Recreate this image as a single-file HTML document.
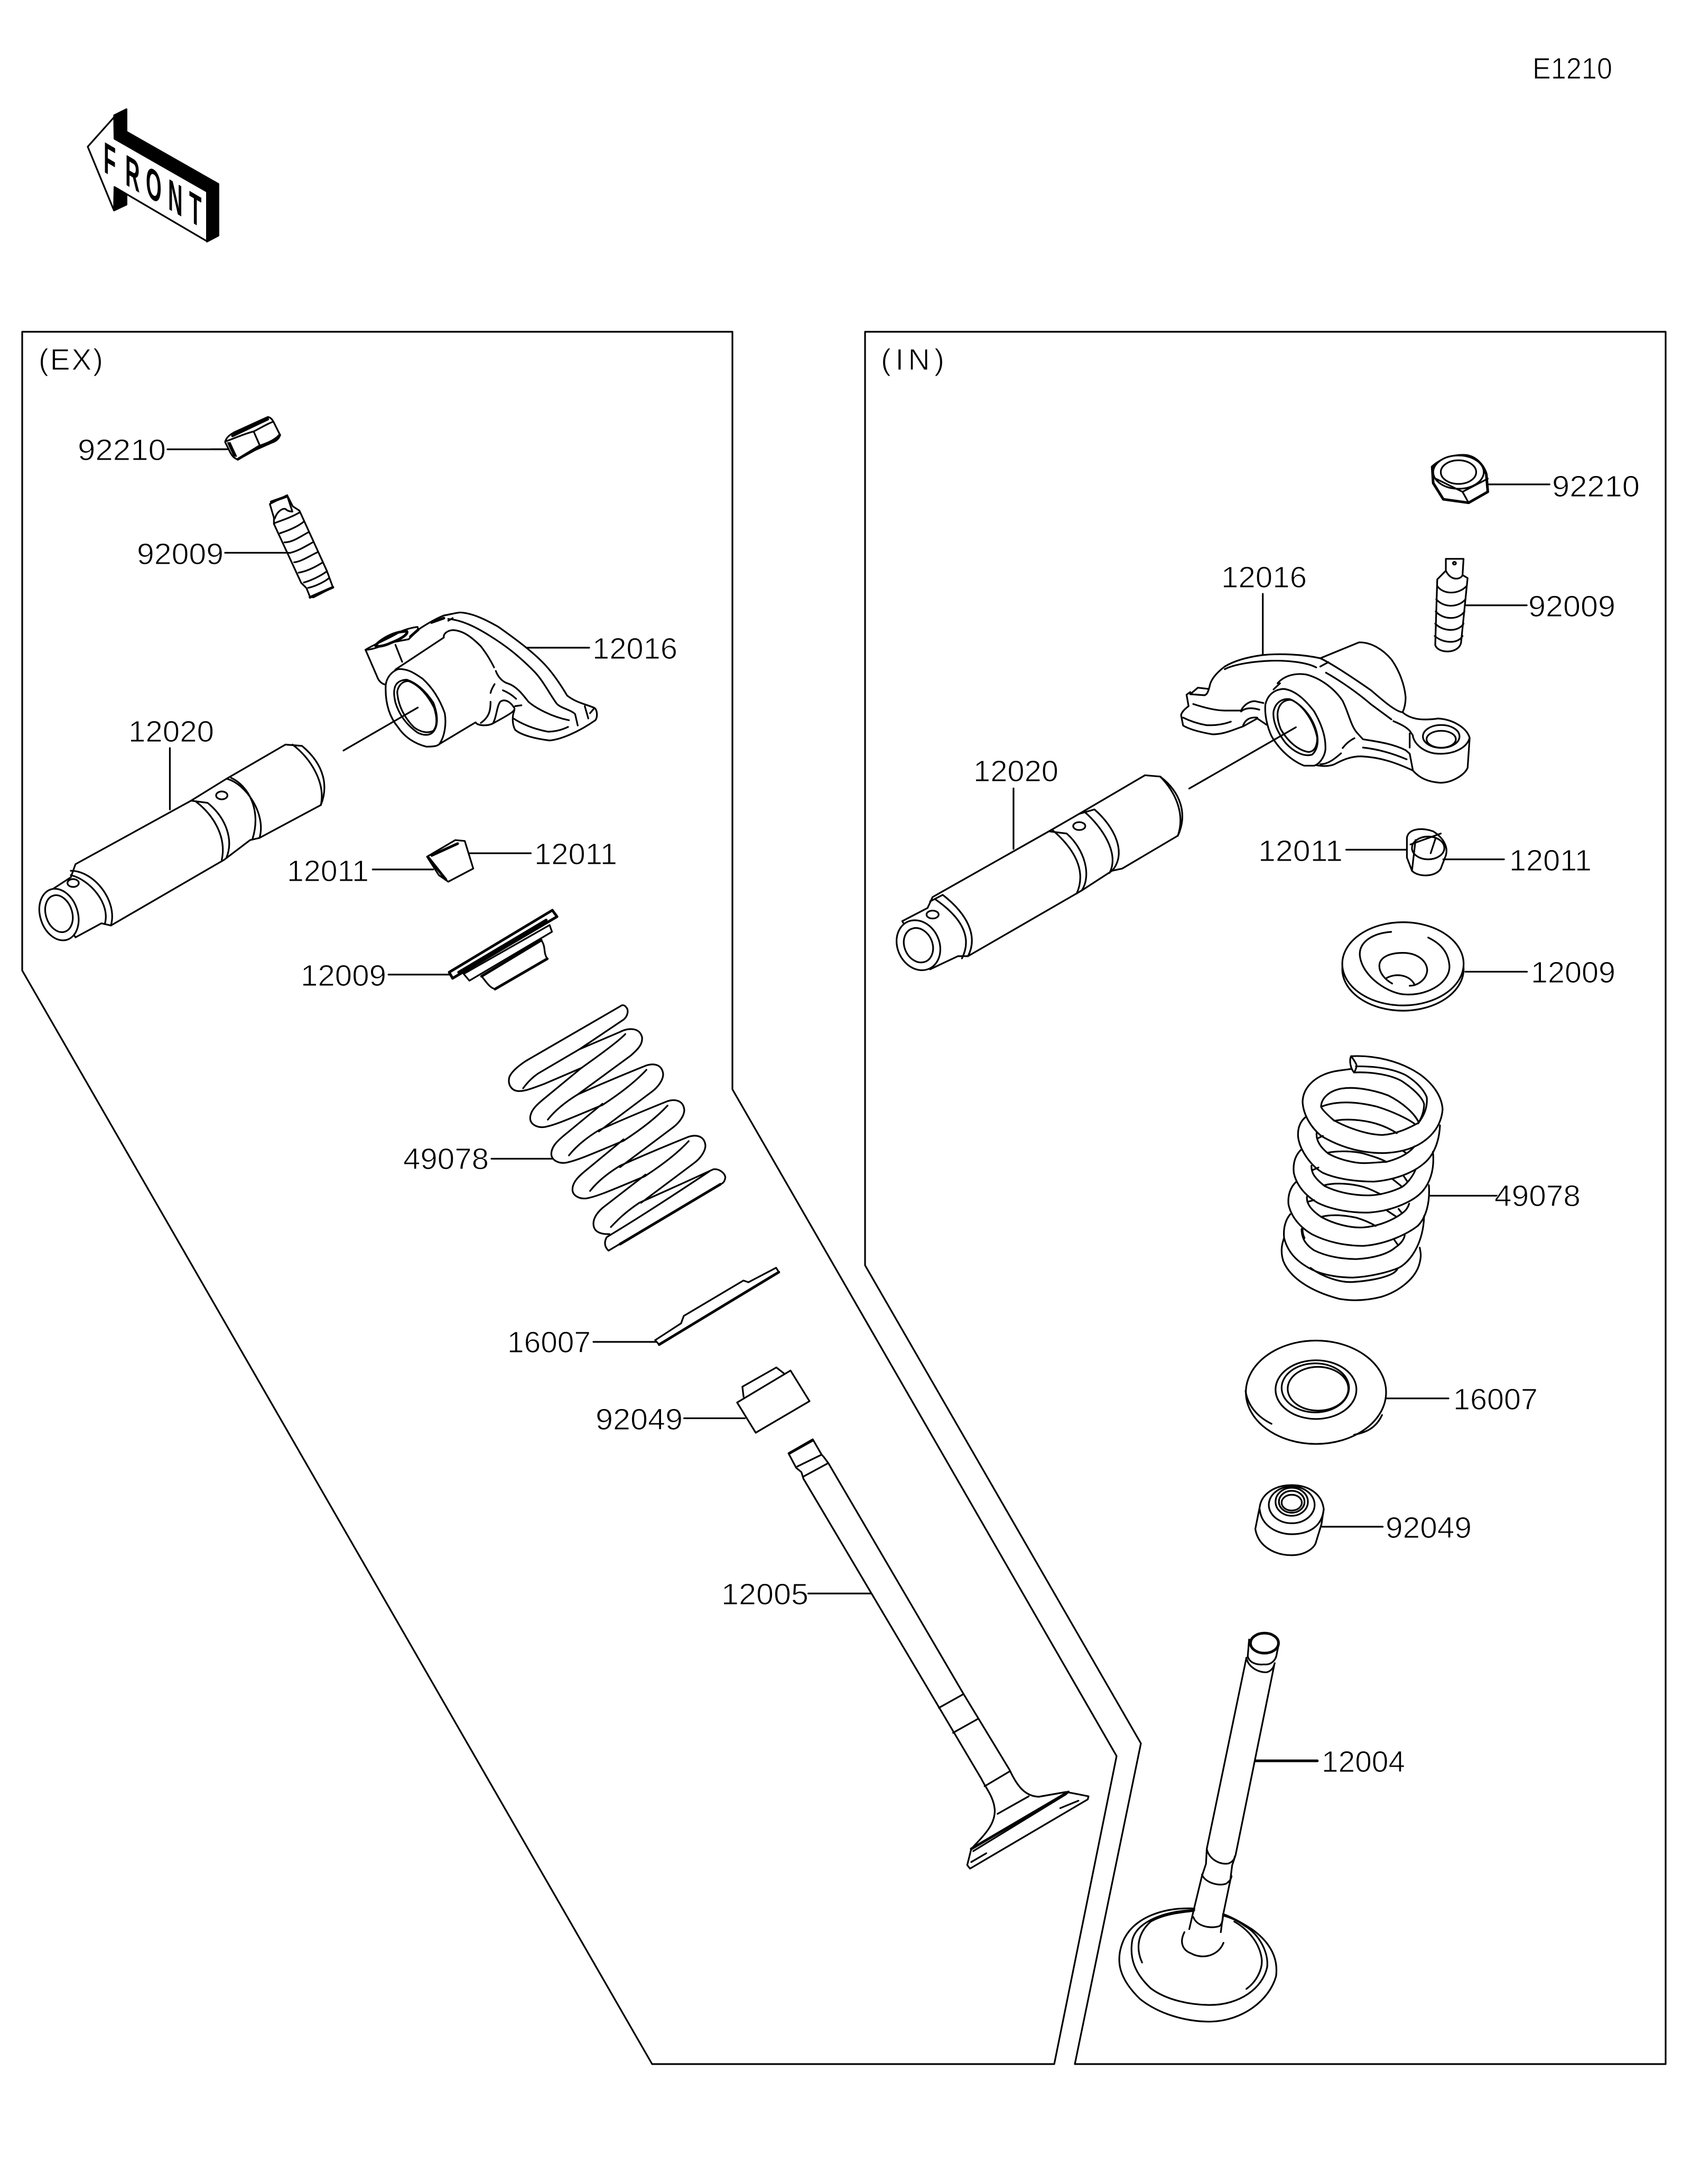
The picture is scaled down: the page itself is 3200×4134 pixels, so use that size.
<!DOCTYPE html>
<html><head><meta charset="utf-8"><style>
html,body{margin:0;padding:0;background:#fff}
svg{display:block}
svg path,svg line,svg ellipse,svg polygon{vector-effect:non-scaling-stroke;stroke:#000;stroke-width:3.2;fill:none;stroke-linejoin:round;stroke-linecap:round}
svg .w{fill:#fff}
svg .t{stroke-width:5}
svg .b{fill:#000}
text.l{font-family:"Liberation Sans",sans-serif;font-size:57px;fill:#000;stroke:#fff;stroke-width:1.1px}
text.f{font-family:"Liberation Sans",sans-serif;font-size:83px;font-weight:bold;fill:#000}
</style></head><body>
<svg xmlns="http://www.w3.org/2000/svg" width="3200" height="4134" viewBox="0 0 3200 4134">
<rect width="3200" height="4134" fill="#fff"/>

<!-- panels -->
<path d="M42,628 H1386 V2062 L2113,3324 L1995,3907 H1234 L42,1837 Z"/>
<path d="M1637,628 H3152 V3907 H2034 L2159,3300 L1637,2395 Z"/>

<!-- FRONT -->
<g transform="translate(100,150) scale(.3333)">
<polygon class="b" points="348,205 418,170 418,298 940,595 940,888 875,922 875,638 350,338"/>
<polygon class="b" points="348,745 418,712 418,655 350,612"/>
<polygon class="w" points="348,215 198,383 347,745 350,612 875,920 875,638 350,338"/>
</g>
<text class="f" transform="matrix(.46,.27,0,1,196,325)">F</text>
<text class="f" transform="matrix(.46,.27,0,1,237,349)">R</text>
<text class="f" transform="matrix(.46,.27,0,1,276,370)">O</text>
<text class="f" transform="matrix(.46,.27,0,1,318,395)">N</text>
<text class="f" transform="matrix(.46,.27,0,1,358,418)">T</text>

<!-- EX nut + screw -->
<g transform="translate(400,780) scale(.3333)">
<path d="M78,170 C85,140 110,125 140,110 L320,28 C340,30 350,50 355,60 L390,130 C385,150 370,165 340,175 L250,215 L150,270 C125,260 115,245 105,225 Z"/>
<path d="M85,165 C130,150 180,125 240,110 C280,90 320,65 350,55 M240,110 L275,190 M105,175 L140,250 M95,175 L130,250"/>
<path class="t" d="M120,135 L320,40 M130,118 L300,45 M150,268 L270,195 C300,185 360,165 388,130"/>
<path d="M0,211 H95"/>
<path d="M332,522 L430,472 L462,535 L500,560 L655,900 L690,995 L580,1052 L560,1050 L540,1000 L510,970 L355,635 L355,600 Z"/>
<path class="t" d="M340,510 L430,478 M560,1052 L690,995"/>
<path d="M432,480 L460,565 M360,605 C370,570 400,545 420,550 C430,560 445,565 458,565 M360,630 C400,615 460,595 500,570 M390,688 C430,675 480,655 515,630 L525,622 M415,740 C460,740 500,710 550,683 M445,800 C490,790 530,765 575,740 M470,853 C510,850 560,815 605,795 M495,912 C540,905 590,880 630,855 M525,968 C570,955 620,930 655,905 M550,998 C590,990 640,965 665,945"/>
<path d="M78,799 H440"/>
</g>

<!-- EX rocker -->
<g transform="translate(660,1130) scale(.3333)">
<path d="M95,300 L160,450 C170,480 190,495 210,498 M210,498 C215,460 240,425 280,410 C330,405 370,430 420,465 C480,520 520,590 545,660 C555,720 545,790 515,835 C505,845 490,850 440,850 C380,835 320,800 280,740 C230,680 205,600 210,498 Z"/>
<path d="M260,520 C265,490 290,470 330,470 C390,490 440,540 480,600 C500,650 510,710 490,750 C470,790 430,790 390,770 C340,735 290,680 265,600 C258,570 255,540 260,520 Z"/>
<path d="M275,540 C280,500 310,475 340,478 C400,500 450,560 485,630 C500,680 505,730 480,760 C450,775 410,770 370,740 C320,690 280,620 275,540 Z"/>
<path d="M-30,872 L392,628"/>
<path d="M265,412 L540,230 C535,210 560,190 590,188 C650,190 700,230 750,280 C780,320 800,350 825,400 M835,420 C845,450 870,480 900,490 C950,505 985,550 1020,595 C1060,630 1150,680 1250,700 M828,495 C815,515 808,530 805,545 M805,595 C805,640 800,680 750,715 M875,530 C900,540 925,555 950,578 M820,715 C840,680 840,620 860,595 C880,580 910,585 940,630 C945,645 935,655 815,720 M945,620 L980,615 M515,835 L720,712 C730,730 780,735 815,720"/>
<path d="M940,645 C925,680 930,730 945,755 C980,785 1060,805 1140,815 C1200,810 1300,770 1400,700 C1415,680 1410,640 1395,630 C1350,610 1290,600 1240,560 C1210,510 1160,430 1100,370 C1040,310 970,255 850,170 C780,130 700,90 630,88 C610,90 570,100 540,105 C490,125 440,155 395,185 L340,240 M565,135 L590,120 M565,125 C640,130 720,170 800,220 C880,270 950,320 1050,420 C1100,470 1140,550 1180,605 C1200,630 1260,640 1285,665 L1300,730 M935,690 C980,720 1050,750 1130,765 C1170,765 1210,755 1245,738 M1340,620 L1360,690 M1370,660 L1395,630"/>
<path d="M95,300 C140,270 200,250 270,210 C300,190 350,175 390,170 L395,185 L340,240 L260,255 C200,270 140,300 95,300 M265,272 L303,368"/>
<path class="t" d="M150,275 C190,235 260,195 330,195 C340,215 280,245 240,260 C200,280 160,285 150,275 M395,185 L350,225 M470,145 L540,120"/>
<path d="M1010,288 H1365"/>
</g>

<!-- EX shaft, key, etc: zoom 2 coords -->
<g transform="translate(0,620) scale(.8929,.8292)">
<path d="M355,278 H478"/>
<path class="w" d="M160,1225 L405,1080 L480,1030 L605,952 L640,955 C690,1000 695,1050 680,1090 L550,1165 L530,1170 L475,1215 L235,1365 L215,1360 L160,1392 L100,1290 L150,1255 Z"/>
<path d="M405,1080 L440,1085 C480,1120 495,1170 480,1210 M415,1082 C455,1115 480,1165 470,1215 M480,1030 C520,1040 565,1110 550,1165 M490,1028 C525,1045 555,1100 535,1168 M150,1240 C200,1240 250,1310 235,1365 M150,1250 C190,1260 235,1315 222,1362 M620,952 C660,985 690,1040 680,1090"/>
<ellipse cx="470" cy="1068" rx="12" ry="9"/><ellipse cx="155" cy="1268" rx="12" ry="9"/>
<ellipse class="w" cx="125" cy="1340" rx="40" ry="60" transform="rotate(-15 125 1340)"/>
<ellipse cx="125" cy="1338" rx="28" ry="43" transform="rotate(-15 125 1338)"/>
<path d="M360,960 V1100"/>
<polygon class="w" points="905,1208 965,1170 985,1172 1003,1235 950,1265 930,1250"/>
<path class="t" d="M908,1210 L945,1260 M915,1205 L970,1178"/>
<path d="M995,1200 H1125 M790,1237 H918"/>
</g>

<!-- EX retainer, plate: zoom 3 coords -->
<g transform="translate(600,1700) scale(.6378)">
<path class="t w" d="M392,220 L698,36 L712,55 L402,238 Z"/>
<path class="w" d="M435,225 L690,80 L697,100 L452,245 Z"/>
<path class="w" d="M488,232 L665,125 C680,145 670,160 683,180 L528,270 C510,265 500,245 488,232 Z"/>
<path class="t" d="M488,232 L665,125 M528,270 L683,180 M420,220 L680,65"/>
<path d="M212,227 H395"/>
<path class="w" d="M1003,1312 L1080,1262 L1088,1240 L1265,1135 L1280,1140 L1362,1097 L1370,1110 L1015,1325 Z"/>
<path class="t" d="M1015,1325 L1370,1110"/>
<path d="M820,1317 H1005"/>
</g>

<!-- EX spring -->
<g transform="translate(940,1880) scale(.3333)">
<path d="M470,318 L720,150 C745,130 750,95 735,80 C725,65 712,65 700,75 L165,385 C120,415 85,445 72,475 C60,520 85,550 115,555 C150,560 190,545 270,515 L480,425 C600,340 700,265 730,232"/>
<path d="M150,540 C175,505 210,470 245,450 L470,318 L700,220 C740,198 810,190 825,250 C830,290 800,320 760,355 L460,575"/>
<path d="M290,718 C320,680 370,630 460,575 C560,530 700,470 850,410 C900,395 940,410 945,460 C945,490 920,530 880,560 L580,785"/>
<path transform="translate(120,203)" d="M290,718 C320,680 370,630 460,575 C560,530 700,470 850,410 C900,395 940,410 945,460 C945,490 920,530 880,560 L580,785"/>
<path transform="translate(240,405)" d="M290,718 C320,680 370,630 460,575 C560,530 700,470 850,410 C900,395 940,410 945,460 C945,490 920,530 880,560 L580,785"/>
<path d="M480,425 L280,590 C230,630 190,665 190,710 C190,745 230,765 270,760 C330,750 420,710 600,635 C700,570 790,500 850,435"/>
<path transform="translate(120,203)" d="M480,425 L280,590 C230,630 190,665 190,710 C190,745 230,765 270,760 C330,750 420,710 600,635 C700,570 790,500 850,435"/>
<path transform="translate(240,405)" d="M480,425 L280,590 C230,630 190,665 190,710 C190,745 230,765 270,760 C330,750 420,710 600,635 C700,570 790,500 850,435"/>
<path d="M845,1030 L600,1220 C560,1255 545,1290 550,1320 C555,1355 590,1370 640,1368"/>
<path d="M648,1328 C680,1295 720,1250 810,1190 C900,1150 1100,1060 1230,1000 C1260,995 1295,1020 1298,1045 C1295,1070 1285,1080 1270,1085 L635,1462 C610,1440 610,1410 625,1385 C800,1280 1000,1150 1210,1010"/>
<path class="t" d="M1270,1085 L700,1425"/>
<path d="M-30,940 H315"/>
</g>

<!-- EX valve + seal: zoom 4 coords -->
<g transform="translate(1000,2600) scale(.7653,.8292)">
<path d="M532,53 L529,30 L613,-14 L631,-1"/>
<polygon class="w" points="516,66 648,-7 695,63 562,135"/>
<path d="M385,102 H535"/>
<path d="M692,502 H848"/>
<path class="w" d="M643,182 L703,150 L725,185 L730,190 L742,205 L1075,730 L1190,905 C1210,945 1230,965 1262,966 L1330,955 L1385,965 L1383,972 L1092,1130 L1085,1122 L1095,1085 C1125,1055 1155,1030 1153,995 C1150,965 1130,945 1120,925 L680,240 L675,225 L662,215 Z"/>
<path d="M665,212 L725,185 M680,235 L740,205 M1015,763 L1075,732 M1050,820 L1112,788 M1128,942 L1190,908 M1160,1005 L1237,965 M1100,1090 L1330,960 M1315,992 L1360,975 M1095,1115 L1132,1095"/>
<path class="t" d="M1095,1085 L1335,955 M645,182 L703,152"/>
</g>

<!-- IN rocker -->
<g transform="translate(2210,1190) scale(.3846,.3333)">
<path d="M465,150 C550,140 660,145 750,168 L940,78 C1000,75 1060,120 1100,175 C1140,240 1165,320 1170,390 C1170,420 1165,450 1155,475 C1190,510 1240,525 1330,510 C1400,515 1470,560 1485,620 L1475,790 C1460,830 1400,875 1340,875 C1280,870 1240,850 1205,805 C1130,765 1050,730 950,725 C900,725 860,745 820,770 C790,785 750,780 730,775"/>
<path d="M465,150 C400,160 330,180 280,215 C240,250 210,290 205,330 C200,350 195,375 180,378 L110,372 L148,335 L200,342 M110,360 L92,375 L102,440 C85,455 70,470 65,490 L75,550 C110,575 170,590 220,600 C280,600 330,570 370,555 L440,510 L485,545 M75,505 C110,525 150,540 190,548 C230,550 270,545 310,528 M125,428 C170,445 230,465 280,465 L360,465 C375,430 405,410 430,412 L470,422 M360,470 C385,445 420,450 450,460 M370,550 C380,520 400,500 440,505"/>
<path d="M280,230 C330,200 430,185 510,182 C590,180 680,190 730,220 M750,215 L790,190 M750,168 C800,195 900,270 1000,350 C1060,410 1120,470 1155,475 M778,250 C840,290 930,360 1000,430 L1100,515 M1110,525 C1140,540 1170,555 1190,580 L1205,605 C1210,650 1250,695 1310,708 C1400,720 1470,680 1485,620 M1190,595 L1190,675 M540,310 C570,270 620,250 680,260 C750,280 820,340 860,410 C890,480 900,550 930,590 L960,628 C1020,640 1100,650 1170,690 L1190,710 L1205,800 M520,345 L552,310 M960,675 C1040,685 1110,710 1175,742 M860,678 C875,655 895,635 918,622 M750,770 C790,770 825,735 852,708"/>
<path d="M480,430 C490,380 520,345 570,342 C630,350 680,410 720,470 C750,530 780,610 775,690 C770,730 745,770 720,778 L670,778 C610,750 550,690 510,610 C490,560 475,490 480,430 Z"/>
<path d="M520,470 C530,420 560,395 600,400 C660,430 710,500 730,580 C745,640 735,690 710,715 C670,730 620,700 580,650 C540,590 515,530 520,470 Z"/>
<path d="M540,480 C545,420 580,400 610,405 C670,440 720,530 735,620 C735,670 720,700 690,700 C640,690 590,640 555,570 C545,540 538,510 540,480 Z"/>
<ellipse cx="1345" cy="612" rx="90" ry="65"/>
<ellipse cx="1345" cy="628" rx="72" ry="48"/>
<path d="M105,908 L630,560"/>
</g>

<!-- IN top: zoom 5 coords -->
<g transform="translate(1650,620) scale(.9569,.8292)">
<path class="w t" d="M1108,318 C1125,300 1150,290 1175,292 C1195,295 1210,315 1215,335 L1218,375 L1180,400 L1130,392 L1110,355 Z"/>
<ellipse class="w" cx="1160" cy="330" rx="50" ry="38"/>
<ellipse cx="1160" cy="330" rx="35" ry="27"/>
<path d="M1115,345 L1168,375 L1218,345 M1168,375 L1180,400 M1110,355 L1130,392"/>
<path d="M1220,358 H1340"/>
<path class="w" d="M1135,528 L1170,528 L1168,565 L1178,572 L1165,720 C1160,745 1120,745 1114,725 L1118,575 L1135,555 Z"/>
<path d="M1135,555 C1145,580 1165,575 1168,565 M1118,590 C1130,610 1160,610 1176,590 M1116,620 C1130,640 1160,640 1174,620 M1115,648 C1130,668 1160,668 1172,648 M1114,676 C1130,695 1160,695 1170,676 M1113,704 C1130,722 1160,722 1168,704"/>
<ellipse cx="1152" cy="538" rx="3" ry="3"/>
<path d="M1175,634 H1295 M773,608 V745"/>

<path class="w" d="M120,1300 L350,1150 L410,1110 L540,1022 L570,1025 C610,1060 625,1110 605,1160 L495,1235 L475,1240 L415,1285 L190,1435 L170,1435 L115,1465 L60,1355 L110,1325 Z"/>
<path d="M350,1150 L385,1155 C420,1190 435,1250 415,1285 M358,1148 C400,1190 425,1240 405,1292 M410,1110 L440,1100 C480,1140 505,1200 475,1240 M420,1105 C455,1140 490,1200 470,1245 M115,1310 L140,1295 C190,1340 210,1390 190,1435 M125,1305 C175,1345 200,1390 178,1440 M570,1025 C600,1060 620,1110 605,1160"/>
<ellipse cx="410" cy="1138" rx="12" ry="9"/><ellipse cx="120" cy="1340" rx="12" ry="9"/>
<ellipse class="w" cx="92" cy="1410" rx="42" ry="58" transform="rotate(-15 92 1410)"/>
<ellipse cx="92" cy="1410" rx="28" ry="40" transform="rotate(-15 92 1410)"/>
<path d="M280,1052 V1190"/>

<path class="w" d="M1058,1165 C1060,1145 1085,1140 1110,1150 C1130,1165 1140,1185 1135,1205 L1125,1235 C1115,1255 1080,1255 1068,1240 L1058,1210 Z"/>
<ellipse cx="1100" cy="1188" rx="32" ry="26"/>
<path d="M1065,1180 L1125,1155 M1068,1240 L1075,1170 M1115,1165 L1105,1200"/>
<path d="M938,1192 H1058 M1130,1214 H1250"/>
</g>

<!-- IN spring -->
<g transform="translate(2400,1980) scale(.3333)">
<path d="M470,58 C600,50 750,85 860,160 C930,210 985,280 990,360 C985,420 960,470 920,510 C860,570 770,605 650,608 C520,608 400,570 300,510 C240,460 200,390 195,320 C195,240 260,170 370,145 C400,138 440,135 470,130"/>
<path d="M470,58 C460,80 465,125 487,150 C500,130 505,110 498,100 C490,85 480,70 470,58 M498,115 C600,115 700,125 780,165 C830,195 880,240 900,290 C905,340 890,390 850,440 M487,150 C590,145 700,165 760,200 C820,240 875,290 885,330 C885,370 870,410 850,440"/>
<path d="M300,345 C300,300 340,260 400,245 C480,225 600,250 680,280 C760,320 830,380 855,435 C800,465 730,500 650,505 C560,505 440,460 370,420 C330,385 305,360 300,345 M300,345 C400,305 520,320 620,345 C700,370 790,410 835,445 M375,425 C440,410 540,420 610,440 C660,455 700,475 730,495"/>
<path d="M210,405 C180,430 165,470 170,520 C180,590 240,680 310,720 C400,760 520,770 600,770 C720,760 820,720 880,670 C930,630 970,560 975,450 M275,490 C270,530 290,570 340,610 C400,645 490,665 540,665 C590,665 620,660 670,658 C720,645 790,620 830,570 M340,605 C400,595 480,595 540,610 C590,625 640,640 670,658 M280,525 L310,510 M765,595 L785,610"/>
<path d="M185,590 C150,625 140,670 145,720 C160,790 210,850 280,890 C360,930 480,950 580,945 C710,935 830,880 880,820 C920,770 945,700 935,600 M245,680 C245,710 250,740 320,795 C400,835 500,850 580,848 C650,845 720,820 760,800 C790,780 820,740 835,705 M320,790 C380,775 470,780 540,800 C590,815 620,835 640,842 M250,705 L285,690 M705,755 L755,795 M770,740 L790,770"/>
<path d="M160,770 C125,800 110,850 115,900 C130,970 180,1030 250,1070 C330,1110 430,1135 540,1135 C680,1125 800,1060 850,1020 C890,980 920,900 912,790 M220,855 C215,890 240,930 300,970 C370,1010 470,1035 540,1030 C610,1025 680,1000 730,970 C770,945 790,930 800,895 M300,970 C360,955 430,960 500,975 C550,990 590,1010 610,1022 M222,885 L260,875 M675,935 L725,968 M740,925 L760,950"/>
<path d="M125,955 C95,990 85,1040 90,1090 C110,1170 160,1220 230,1260 C300,1300 400,1315 480,1315 C580,1310 680,1285 740,1260 C800,1230 880,1130 885,965 M190,1040 C190,1080 200,1120 260,1160 C330,1195 420,1210 500,1210 C600,1205 680,1180 720,1145 C750,1125 770,1100 775,1075 M715,1100 L735,1128"/>
<path class="t" d="M192,1040 C192,1060 195,1075 203,1090"/>
<path d="M90,1090 C75,1130 70,1170 85,1220 C120,1310 230,1390 400,1435 C480,1450 560,1445 640,1425 C740,1395 840,1320 860,1230 C870,1190 865,1170 860,1145 M240,1260 C300,1305 400,1345 480,1340 C560,1335 650,1320 700,1295 C720,1285 730,1275 735,1262"/>
<path d="M920,850 H1300"/>
</g>

<!-- IN retainer, plate, seal: zoom 6 coords -->
<g transform="translate(2100,1700) scale(.6378,.8292)">
<ellipse class="w" cx="870" cy="162" rx="180" ry="95"/>
<ellipse class="w" cx="870" cy="150" rx="180" ry="95"/>
<path d="M835,77 C780,80 740,100 742,130 C748,180 830,220 880,220 C950,222 1010,190 1008,155 C1005,125 985,105 945,90"/>
<path d="M800,155 C800,135 830,125 870,125 C915,125 942,145 942,165 C940,185 915,200 890,200 M800,155 C800,170 815,185 838,195 M820,183 C850,170 890,175 905,198"/>
<path d="M1055,168 H1238"/>

<ellipse class="w" cx="612" cy="1128" rx="208" ry="118"/>
<path d="M403,1125 C410,1160 440,1185 480,1200 M725,1225 C760,1220 790,1210 808,1180"/>
<ellipse cx="612" cy="1122" rx="120" ry="67"/>
<ellipse cx="610" cy="1118" rx="100" ry="56"/>
<ellipse cx="618" cy="1120" rx="90" ry="50"/>
<path d="M822,1142 H1005"/>

<path class="w" d="M445,1390 L432,1440 C440,1480 490,1500 540,1500 C585,1500 610,1480 612,1470 L628,1430 L635,1395 C630,1360 590,1340 540,1340 C490,1340 450,1360 445,1390 Z"/>
<path d="M445,1395 C450,1435 500,1452 540,1452 C590,1452 630,1435 635,1395"/>
<ellipse cx="540" cy="1385" rx="68" ry="42"/>
<ellipse cx="540" cy="1378" rx="48" ry="32"/>
<ellipse cx="540" cy="1378" rx="38" ry="25"/>
<ellipse cx="540" cy="1380" rx="30" ry="18"/>
<path d="M630,1435 H810"/>
</g>

<!-- 12004: zoom 7 coords -->
<g transform="translate(2050,3000) scale(.5102,.5741)">
<path class="w" d="M412,1067 C300,1062 190,1095 150,1170 C115,1240 135,1300 210,1365 C280,1415 380,1440 470,1440 C590,1438 690,1370 715,1290 C725,1220 680,1170 625,1135 C590,1115 550,1095 518,1085"/>
<path d="M412,1072 C300,1075 200,1110 182,1170 C170,1230 190,1280 250,1330 C310,1370 400,1385 470,1385 C580,1385 665,1330 682,1260 C688,1210 650,1150 600,1125 C570,1105 540,1095 518,1090"/>
<path d="M218,1245 C195,1200 200,1150 250,1110 C300,1085 360,1080 410,1075 M605,1332 C640,1310 665,1270 662,1235 C655,1180 610,1135 560,1110"/>
<path d="M375,1145 C355,1180 370,1205 400,1215 C440,1235 500,1225 520,1180"/>
<path d="M605,240 L458,870 L455,920 L440,960 L410,1070 L393,1135 M708,265 L565,890 L552,925 L545,975 L518,1090 L510,1145"/>
<path d="M615,180 L610,235 C615,255 640,265 670,262 C695,265 715,250 718,225 L725,195 M605,240 C610,270 650,290 680,288 C695,285 705,275 710,258 M458,870 C465,905 510,925 540,918 C555,912 560,905 562,895 M440,955 C450,980 500,995 530,985 C545,975 548,970 550,960 M408,1095 C420,1125 470,1135 505,1125 C515,1118 518,1105 518,1090"/>
<ellipse class="w t" cx="672" cy="192" rx="52" ry="33"/>
<path d="M640,580 H868" class="t"/>
</g>

<!-- labels -->
<g>
<text class="l" x="2900" y="149" textLength="151" lengthAdjust="spacingAndGlyphs">E1210</text>
<text class="l" x="73" y="700" textLength="122">(EX)</text>
<text class="l" x="1667" y="700" textLength="120">(IN)</text>
<text class="l" x="147" y="871" textLength="167" lengthAdjust="spacingAndGlyphs">92210</text>
<text class="l" x="259" y="1068" textLength="164" lengthAdjust="spacingAndGlyphs">92009</text>
<text class="l" x="1121" y="1247" textLength="161" lengthAdjust="spacingAndGlyphs">12016</text>
<text class="l" x="243" y="1404" textLength="162" lengthAdjust="spacingAndGlyphs">12020</text>
<text class="l" x="1011" y="1636" textLength="157" lengthAdjust="spacingAndGlyphs">12011</text>
<text class="l" x="543" y="1668" textLength="155" lengthAdjust="spacingAndGlyphs">12011</text>
<text class="l" x="569" y="1866" textLength="162" lengthAdjust="spacingAndGlyphs">12009</text>
<text class="l" x="763" y="2213" textLength="162" lengthAdjust="spacingAndGlyphs">49078</text>
<text class="l" x="960" y="2560" textLength="158" lengthAdjust="spacingAndGlyphs">16007</text>
<text class="l" x="1127" y="2706" textLength="165" lengthAdjust="spacingAndGlyphs">92049</text>
<text class="l" x="1365" y="3037" textLength="165" lengthAdjust="spacingAndGlyphs">12005</text>
<text class="l" x="2937" y="940" textLength="166" lengthAdjust="spacingAndGlyphs">92210</text>
<text class="l" x="2311" y="1112" textLength="162" lengthAdjust="spacingAndGlyphs">12016</text>
<text class="l" x="2892" y="1167" textLength="165" lengthAdjust="spacingAndGlyphs">92009</text>
<text class="l" x="1842" y="1479" textLength="161" lengthAdjust="spacingAndGlyphs">12020</text>
<text class="l" x="2381" y="1630" textLength="160" lengthAdjust="spacingAndGlyphs">12011</text>
<text class="l" x="2856" y="1648" textLength="156" lengthAdjust="spacingAndGlyphs">12011</text>
<text class="l" x="2897" y="1860" textLength="160" lengthAdjust="spacingAndGlyphs">12009</text>
<text class="l" x="2828" y="2283" textLength="163" lengthAdjust="spacingAndGlyphs">49078</text>
<text class="l" x="2750" y="2668" textLength="160" lengthAdjust="spacingAndGlyphs">16007</text>
<text class="l" x="2622" y="2911" textLength="163" lengthAdjust="spacingAndGlyphs">92049</text>
<text class="l" x="2501" y="3354" textLength="158" lengthAdjust="spacingAndGlyphs">12004</text>
</g>
</svg>
</body></html>
